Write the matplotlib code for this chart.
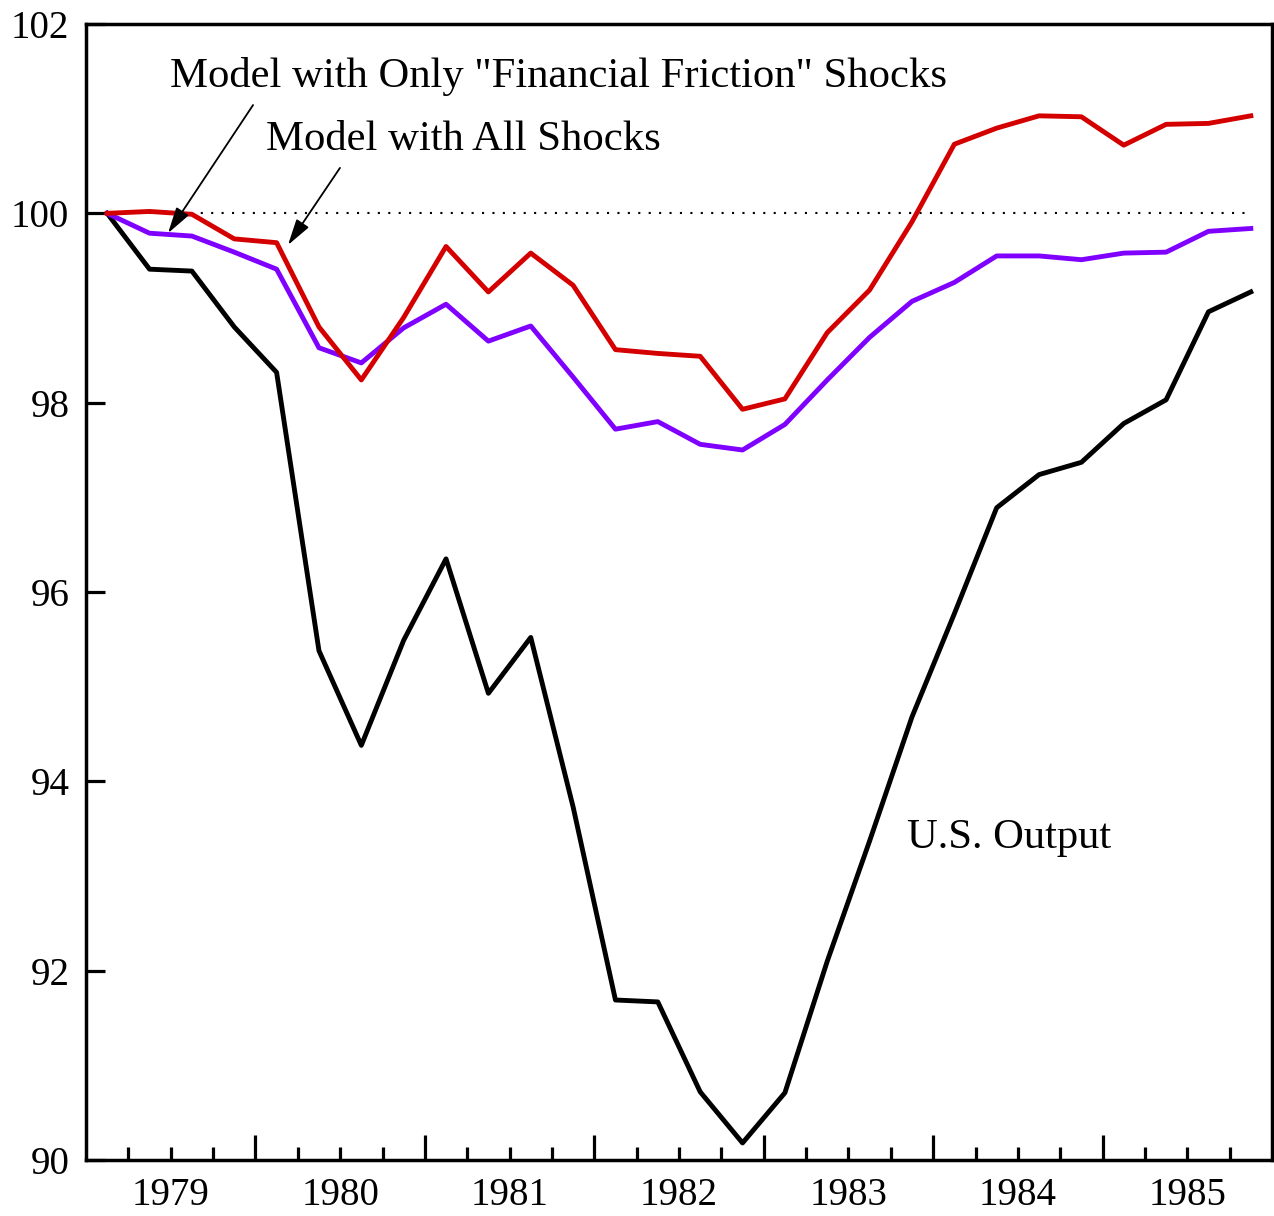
import matplotlib
matplotlib.use('Agg')
import matplotlib.pyplot as plt
import numpy as np
from matplotlib.ticker import FixedLocator, FixedFormatter

plt.rcParams['font.family'] = ['Liberation Serif', 'DejaVu Serif']

# ── Data (quarterly, 1979Q1 - 1985Q4, index 1979Q1 = 100) ──────
quarters = 1979.125 + 0.25 * np.arange(28)

us_output = [100.00, 99.41, 99.39, 98.80, 98.32, 95.38, 94.38, 95.49,
             96.35, 94.93, 95.52, 93.73, 91.69, 91.67, 90.72, 90.18,
             90.71, 92.10, 93.37, 94.68, 95.77, 96.89, 97.24, 97.37,
             97.78, 98.03, 98.96, 99.17]
financial_only = [100.00, 99.79, 99.76, 99.59, 99.41, 98.58, 98.42, 98.79,
                  99.04, 98.65, 98.81, 98.27, 97.72, 97.80, 97.56, 97.50,
                  97.77, 98.24, 98.69, 99.07, 99.27, 99.55, 99.55, 99.51,
                  99.58, 99.59, 99.81, 99.84]
all_shocks = [100.00, 100.02, 99.99, 99.73, 99.69, 98.80, 98.24, 98.90,
              99.65, 99.17, 99.58, 99.24, 98.56, 98.52, 98.49, 97.93,
              98.04, 98.74, 99.19, 99.91, 100.73, 100.90, 101.03, 101.02,
              100.72, 100.94, 100.95, 101.03]

years = [1979, 1980, 1981, 1982, 1983, 1984, 1985]
y_ticks = [90, 92, 94, 96, 98, 100, 102]

# ── Figure ─────────────────────────────────────────────────────
fig = plt.figure(figsize=(12.74, 12.16), dpi=100)
ax = fig.add_axes([86 / 1274, 56 / 1216, 1186 / 1274, 1136 / 1216])

ax.hlines(100, quarters[0], quarters[-1], colors='black', linewidth=1.5,
          linestyles=(0, (1, 4)), zorder=1)
ax.plot(quarters, us_output, color='black', linewidth=3.5, zorder=3)
ax.plot(quarters, financial_only, color='#8000FF', linewidth=3.5, zorder=4)
ax.plot(quarters, all_shocks, color='#D40000', linewidth=3.5, zorder=5)

ax.set_xlim(1979, 1986)
ax.set_ylim(90, 102)

for s in ax.spines.values():
    s.set_linewidth(2.5)

# x axis: long ticks at year boundaries, short ones at quarters,
# year labels centred under each year
ax.xaxis.set_major_locator(FixedLocator(years[1:]))
ax.xaxis.set_major_formatter(FixedFormatter([''] * (len(years) - 1)))
minor_pos = [y + q for y in years for q in (0.25, 0.5, 0.75)]
minor_lab = [str(y) if q == 0.5 else '' for y in years for q in (0.25, 0.5, 0.75)]
ax.xaxis.set_minor_locator(FixedLocator(minor_pos))
ax.xaxis.set_minor_formatter(FixedFormatter(minor_lab))
ax.tick_params(axis='x', which='major', direction='in', length=18, width=2.3,
               top=False)
ax.tick_params(axis='x', which='minor', direction='in', length=9.5, width=2.3,
               labelsize=28, pad=12, top=False)

ax.set_yticks(y_ticks)
ax.tick_params(axis='y', which='major', direction='in', length=14, width=2.3,
               labelsize=28, pad=12, right=False)

# ── Annotations ────────────────────────────────────────────────
ax.text(1979.496, 101.45, 'Model with Only "Financial Friction" Shocks',
        fontsize=30.7, va='center', ha='left')
ax.text(1980.063, 100.78, 'Model with All Shocks',
        fontsize=30.7, va='center', ha='left')
ax.text(1983.846, 93.40, 'U.S. Output', fontsize=30.7, va='center', ha='left')

arrow = dict(arrowstyle='-|>,head_length=1.6,head_width=0.45', color='black',
             lw=1.3, shrinkA=0, shrinkB=0)
ax.annotate('', xy=(1979.484, 99.79), xytext=(1979.986, 101.144),
            arrowprops=arrow, zorder=6)
ax.annotate('', xy=(1980.192, 99.665), xytext=(1980.499, 100.48),
            arrowprops=arrow, zorder=6)

fig.savefig('out.png', dpi=100)
